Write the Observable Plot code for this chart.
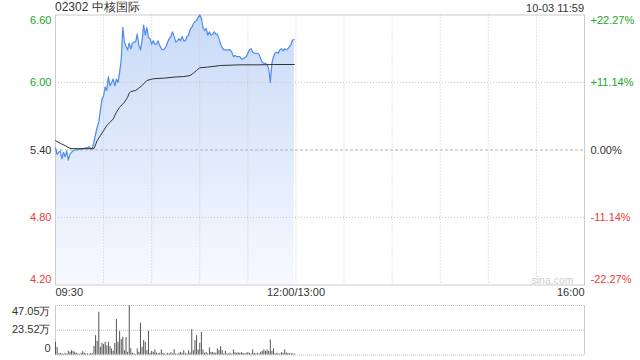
<!DOCTYPE html>
<html>
<head>
<meta charset="utf-8">
<script src="https://cdn.jsdelivr.net/npm/d3@7"></script>
<script src="https://cdn.jsdelivr.net/npm/@observablehq/plot@0.6"></script>
<style>
  html, body { margin: 0; padding: 0; background: #fff; }
  #wrap { position: relative; width: 640px; height: 360px; font-family: "Liberation Sans", Arial, sans-serif; color: #333; }
  #wrap svg { position: absolute; left: 0; }
  #title { position: absolute; left: 55px; top: 0px; font-size: 12px; line-height: 15px; color: #333; }
  #stamp { position: absolute; right: 56px; top: 1px; font-size: 11px; line-height: 14px; color: #333; }
</style>
</head>
<body>
<div id="wrap">
  <div id="title"></div>
  <div id="stamp"></div>
</div>
<script>
const title = "02302 中核国际";
const stamp = "10-03 11:59";
const prevClose = 5.40;

// minute-by-minute price from 09:30 (index = minutes since open)
const prices = [5.42,5.36,5.38,5.39,5.32,5.38,5.34,5.39,5.31,5.36,
 5.38,5.39,5.40,5.40,5.40,5.41,5.41,5.41,5.415,5.42,
 5.42,5.43,5.41,5.42,5.47,5.54,5.60,5.65,5.75,5.85,
 5.88,5.96,5.93,6.05,5.97,6.00,6.03,5.97,6.03,6.00,
 6.09,6.20,6.49,6.36,6.32,6.29,6.35,6.30,6.35,6.36,
 6.36,6.43,6.33,6.29,6.37,6.51,6.42,6.49,6.40,6.39,
 6.34,6.37,6.34,6.34,6.37,6.33,6.30,6.29,6.30,6.32,
 6.36,6.39,6.41,6.45,6.41,6.36,6.37,6.39,6.37,6.41,
 6.37,6.37,6.41,6.42,6.47,6.49,6.52,6.54,6.55,6.58,
 6.60,6.57,6.49,6.46,6.48,6.42,6.45,6.42,6.43,6.45,
 6.43,6.43,6.39,6.34,6.31,6.29,6.29,6.29,6.29,6.29,
 6.27,6.23,6.24,6.23,6.23,6.23,6.21,6.21,6.22,6.23,
 6.26,6.29,6.30,6.27,6.26,6.26,6.26,6.25,6.21,6.18,
 6.17,6.17,6.16,6.12,6.00,6.17,6.23,6.26,6.27,6.26,
 6.29,6.30,6.28,6.30,6.29,6.30,6.32,6.34,6.38,6.38];

// average price line
const avgMinutes = [0,3,6,9,11,24,26,28,30,32,34,36,38,40,43,45,46,47,50,52,54,57,61,68,74,80,84,86,88,90,95,103,115,126,136,149];
const avgPrices = [5.483,5.459,5.439,5.415,5.412,5.412,5.483,5.528,5.572,5.617,5.647,5.676,5.736,5.780,5.825,5.869,5.905,5.920,5.929,5.950,5.973,6.018,6.033,6.039,6.048,6.053,6.062,6.083,6.107,6.131,6.137,6.151,6.157,6.157,6.160,6.160];

// volume per minute, in 万
const volumes = [12.1,7.3,1.0,1.6,1.0,0.6,1.6,0.8,3.5,2.5,
 4.1,3.5,2.5,1.6,1.0,0.6,1.6,3.2,1.6,1.0,
 1.0,0.6,1.6,1.0,8.0,18.4,13.0,40.7,7.3,11.1,
 9.9,12.1,8.6,12.1,8.0,5.7,3.5,11.1,33.7,12.1,
 22.3,14.6,16.9,4.1,16.5,2.5,47.05,6.0,1.6,1.0,
 0.6,5.7,2.5,30.2,7.3,13.7,12.1,4.1,22.6,1.6,
 3.5,2.5,4.8,1.9,1.0,1.6,4.8,1.6,1.0,0.6,
 1.6,1.0,2.2,1.0,5.1,1.0,0.6,1.6,2.5,1.6,
 4.1,1.6,0.8,4.1,1.9,24.2,4.1,13.7,18.4,4.8,
 11.1,21.6,4.8,1.6,2.5,1.0,6.7,2.5,2.2,1.9,
 1.6,5.7,4.1,8.0,4.1,1.0,3.5,1.0,1.0,1.6,
 0.6,4.8,2.2,1.6,2.2,1.6,2.2,1.6,1.0,1.6,
 2.2,1.6,1.0,4.8,1.6,1.0,1.6,1.0,2.5,3.5,
 4.8,3.5,4.8,3.5,14.3,3.5,5.7,1.0,1.6,1.0,
 1.0,2.2,1.6,4.8,1.9,1.6,1.0,1.3,1.0,1.0];

const priceTicks = [6.60, 6.00, 5.40, 4.80, 4.20];
const pctLabels = ["+22.27%", "+11.14%", "0.00%", "-11.14%", "-22.27%"];
const timeTicks = [0, 150, 330];
const timeLabels = ["09:30", "12:00/13:00", "16:00"];
const gridMinutes = [30, 60, 90, 120, 150, 180, 210, 240, 270, 300];
const volTicks = [47.05, 23.52, 0];
const volLabels = ["47.05万", "23.52万", "0"];
const watermark = "sina.com";

// ---- styles ----
const GREEN = "#22a722", RED = "#ee3b3b", NEUTRAL = "#333";
const colorFor = v => v > prevClose + 1e-9 ? GREEN : v < prevClose - 1e-9 ? RED : NEUTRAL;
const pMax = d3.max(priceTicks), pMin = d3.min(priceTicks);
const dyFor = v => v === pMax ? 5.5 : v === pMin ? -6 : 0;
const FONT = "'Liberation Sans', Arial, sans-serif";

document.getElementById("title").textContent = title;
document.getElementById("stamp").textContent = stamp;

function gradientDefs() {
  const ns = "http://www.w3.org/2000/svg";
  const defs = document.createElementNS(ns, "defs");
  const g = document.createElementNS(ns, "linearGradient");
  g.setAttribute("id", "pxfill");
  g.setAttribute("x1", "0"); g.setAttribute("y1", "0");
  g.setAttribute("x2", "0"); g.setAttribute("y2", "1");
  [["0%", "#c9daf7"], ["100%", "#f7f9ff"]].forEach(([o, c]) => {
    const s = document.createElementNS(ns, "stop");
    s.setAttribute("offset", o); s.setAttribute("stop-color", c);
    g.appendChild(s);
  });
  defs.appendChild(g);
  return defs;
}

const leftLabels = priceTicks.map(v => Plot.text([v], {
  y: d => d, frameAnchor: "left", textAnchor: "end", dx: -4, dy: dyFor(v),
  text: d => d.toFixed(2), fill: colorFor(v), fontSize: 11
}));
const rightLabels = priceTicks.map((v, i) => Plot.text([v], {
  y: d => d, frameAnchor: "right", textAnchor: "start", dx: 6, dy: dyFor(v),
  text: () => pctLabels[i], fill: colorFor(v), fontSize: 11
}));
const anchors = ["start", "middle", "end"];
const timeText = timeTicks.map((t, i) => Plot.text([t], {
  x: d => d, frameAnchor: "bottom", lineAnchor: "top", dy: 3, textAnchor: anchors[i],
  text: () => timeLabels[i], fill: "#333", fontSize: 11
}));

const main = Plot.plot({
  width: 640, height: 300,
  marginLeft: 55, marginRight: 56, marginTop: 14.5, marginBottom: 15.5,
  x: {domain: [0, 330], label: null, axis: null},
  y: {domain: [4.2, 6.6], label: null, axis: null},
  style: {fontFamily: FONT, fontSize: "11px", background: "transparent", overflow: "visible"},
  marks: [
    gradientDefs,
    Plot.areaY(prices, {x: (d, i) => i, y1: 4.2, y2: d => d, fill: "url(#pxfill)"}),
    Plot.ruleX(gridMinutes, {x: d => d, stroke: "#c8c8c8", strokeDasharray: "1,2"}),
    Plot.ruleY([6.0, 4.8], {y: d => d, stroke: "#c8c8c8", strokeDasharray: "1,2"}),
    Plot.ruleY([prevClose], {y: d => d, stroke: "#b0b0b0", strokeDasharray: "3,2"}),
    Plot.frame({stroke: "#cccccc"}),
    Plot.line(prices, {x: (d, i) => i, y: d => d, stroke: "#4d8bef", strokeWidth: 1.2}),
    Plot.line(avgPrices, {x: (d, i) => avgMinutes[i], y: d => d, stroke: "#333", strokeWidth: 1}),
    Plot.text([watermark], {frameAnchor: "bottom-right", dx: -11, dy: -1, text: d => d, fill: "#cfcfcf", fontSize: 10.5}),
    ...leftLabels, ...rightLabels, ...timeText
  ]
});
main.style.top = "0px";

const volText = volTicks.map((v, i) => Plot.text([v], {
  y: d => d, frameAnchor: "left", textAnchor: "end", dx: -5,
  dy: i === 0 ? 6 : i === volTicks.length - 1 ? -6.5 : -1,
  text: () => volLabels[i], fill: "#333", fontSize: 11
}));

const vol = Plot.plot({
  width: 640, height: 60,
  marginLeft: 55, marginRight: 56, marginTop: 5, marginBottom: 5.5,
  x: {domain: [0, 330], label: null, axis: null},
  y: {domain: [0, 47.05], label: null, axis: null},
  style: {fontFamily: FONT, fontSize: "11px", background: "transparent", overflow: "visible"},
  marks: [
    Plot.ruleY(volTicks, {y: d => d, stroke: "#c0c0c0", strokeDasharray: "1,1"}),
    Plot.ruleX([0, 330], {x: d => d, stroke: "#cccccc"}),
    Plot.ruleX(volumes, {x: (d, i) => i, y1: 0, y2: d => d, stroke: "#555", strokeWidth: 1}),
    ...volText
  ]
});
vol.style.top = "300px";

const wrap = document.getElementById("wrap");
wrap.appendChild(main);
wrap.appendChild(vol);
</script>
</body>
</html>
